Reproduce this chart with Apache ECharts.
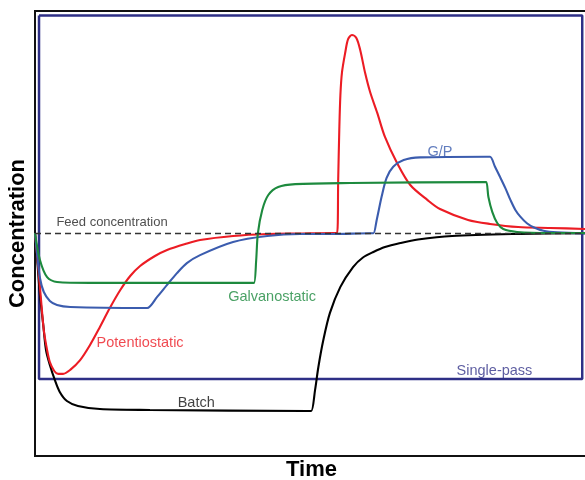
<!DOCTYPE html>
<html>
<head>
<meta charset="utf-8">
<script src="https://cdn.jsdelivr.net/npm/echarts@6/dist/echarts.min.js"></script>
<style>html,body{margin:0;padding:0;background:#fff;}#c{width:585px;height:480px;}</style>
</head>
<body>
<div id="c"></div>
<script>
// Time (0..10) and concentration (feed = 1) values
var feedLevel = [[0, 1.0], [10.05, 1.0]];
var singlePassBox = [[0.073, 1.98], [9.945, 1.98], [9.945, 0.346], [0.073, 0.346], [0.073, 1.98]];

var batch = [[0,1.002],[0.04,0.881],[0.09,0.724],[0.15,0.589],[0.20,0.476],[0.27,0.409],[0.36,0.342],[0.45,0.288],[0.58,0.247],[0.78,0.225],[1.18,0.211],[2.09,0.207],[4.95,0.202],[5.02,0.202],
  [5.09,0.297],[5.15,0.400],[5.24,0.521],[5.36,0.643],[5.55,0.760],[5.78,0.849],[5.96,0.892],[6.15,0.917],[6.36,0.939],[6.64,0.957],[6.96,0.973],[7.58,0.989],[8.78,0.998],[10.05,1.002]];

var galvanostatic = [[0,1.002],[0.09,0.881],[0.22,0.804],[0.40,0.782],[1.00,0.778],[3.92,0.778],[3.98,0.778],[4.02,0.881],[4.05,1.00],[4.13,1.106],[4.24,1.173],[4.42,1.209],[4.73,1.222],[5.73,1.227],
  [8.14,1.231],[8.20,1.231],[8.24,1.164],[8.31,1.097],[8.40,1.047],[8.51,1.020],[8.76,1.007],[9.36,1.002],[10.05,1.002]];

var potentiostatic = [[0,1.002],[0.055,0.858],[0.11,0.701],[0.16,0.566],[0.22,0.476],[0.27,0.422],[0.35,0.382],[0.42,0.369],[0.51,0.369],[0.64,0.387],[0.82,0.431],[1.00,0.499],[1.18,0.580],[1.36,0.665],[1.55,0.746],[1.73,0.809],[1.91,0.854],[2.18,0.899],[2.40,0.926],[2.73,0.953],[3.00,0.971],[3.60,0.989],[4.22,0.998],[4.82,1.0],[5.44,1.002],[5.49,1.002],
  [5.51,1.240],[5.53,1.465],[5.55,1.622],[5.58,1.726],[5.64,1.816],[5.69,1.874],[5.76,1.892],[5.84,1.879],[5.91,1.825],[6.00,1.721],[6.09,1.636],[6.22,1.542],[6.36,1.434],[6.58,1.317],[6.82,1.218],[7.13,1.151],[7.36,1.110],[7.87,1.061],[8.27,1.043],[8.78,1.029],[9.36,1.025],[10.05,1.020]];

var gp = [[0,1.002],[0.04,0.903],[0.09,0.800],[0.16,0.737],[0.27,0.697],[0.40,0.679],[0.64,0.670],[1.97,0.665],[2.04,0.665],[2.22,0.715],[2.40,0.769],[2.58,0.822],[2.76,0.867],[3.00,0.903],[3.60,0.962],[4.22,0.989],[4.82,0.998],[5.42,0.998],[6.10,1.001],[6.15,1.001],
  [6.21,1.061],[6.30,1.166],[6.39,1.250],[6.51,1.300],[6.70,1.330],[7.00,1.342],[8.20,1.345],[8.27,1.345],[8.36,1.300],[8.45,1.255],[8.55,1.203],[8.64,1.151],[8.73,1.106],[8.82,1.076],[8.94,1.046],[9.06,1.028],[9.24,1.012],[9.49,1.005],[10.05,1.0]];

var labelTexts = ['Feed concentration', 'G/P', 'Galvanostatic', 'Potentiostatic', 'Batch', 'Single-pass'];
var labelPos = [[1.40, 1.052], [7.36, 1.366], [4.31, 0.715], [1.91, 0.508], [2.93, 0.238], [8.35, 0.382]];
var labelColors = ['#222222', '#3b5cae', '#1d8a3e', '#ec1c24', '#111111', '#35358a'];
var labelSizes = [13, 14.5, 14.5, 14.5, 14.5, 14.5];

var FONT = 'Liberation Sans, Arial, sans-serif';
var lineBase = function (name, data, color, z) {
  return { name: name, type: 'line', data: data, showSymbol: false, symbol: 'none', smooth: 0.3,
    lineStyle: { color: color, width: 2.1 }, z: z, animation: false, silent: true };
};

var labelData = labelTexts.map(function (t, i) {
  return { value: labelPos[i], label: { show: true, formatter: t, color: labelColors[i], fontSize: labelSizes[i], fontFamily: FONT, position: 'inside', align: 'center', verticalAlign: 'middle' } };
});

var chart = echarts.init(document.getElementById('c'), null, { renderer: 'canvas' });
chart.setOption({
  backgroundColor: '#ffffff',
  animation: false,
  grid: { left: 35, top: 11, right: -3, bottom: 24, outerBoundsMode: 'none', containLabel: false, show: true, borderColor: '#111', borderWidth: 2, backgroundColor: 'transparent' },
  xAxis: { type: 'value', min: 0, max: 10.05, axisLine: { show: false }, axisTick: { show: false }, axisLabel: { show: false }, splitLine: { show: false },
    name: 'Time', nameLocation: 'middle', nameGap: 3, nameTextStyle: { fontSize: 22, fontWeight: 'bold', color: '#000', fontFamily: FONT } },
  yAxis: { type: 'value', min: 0, max: 2, axisLine: { show: false }, axisTick: { show: false }, axisLabel: { show: false }, splitLine: { show: false },
    name: 'Concentration', nameLocation: 'middle', nameGap: 6, nameTextStyle: { fontSize: 22, fontWeight: 'bold', color: '#000', fontFamily: FONT } },
  series: [
    { name: 'Single-pass box', type: 'line', data: singlePassBox, showSymbol: false, symbol: 'none', lineStyle: { color: '#2e2f86', width: 2.5 }, z: 1, animation: false },
    lineBase('Batch', batch, '#000000', 2),
    lineBase('Potentiostatic', potentiostatic, '#ec1c24', 3),
    lineBase('G/P', gp, '#3b5cae', 4),
    lineBase('Galvanostatic', galvanostatic, '#1d8a3e', 5),
    { name: 'Feed', type: 'line', data: feedLevel, showSymbol: false, symbol: 'none', lineStyle: { color: '#333', width: 1.4, type: [6, 4] }, z: 6, animation: false },
    { name: 'labels', type: 'scatter', data: labelData, symbolSize: 0, z: 7, animation: false, silent: true }
  ]
});
</script>
</body>
</html>
